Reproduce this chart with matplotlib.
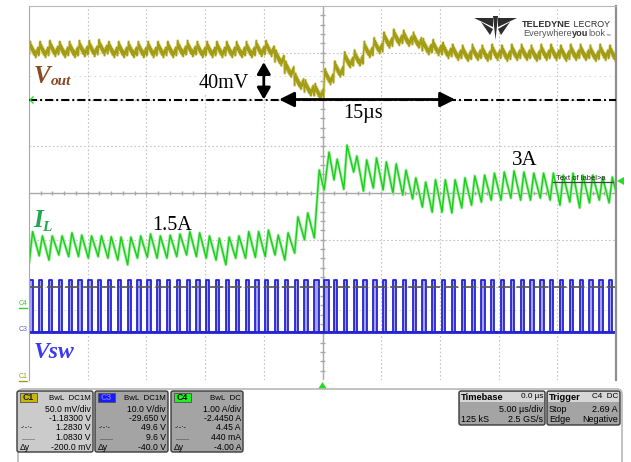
import numpy as np
import matplotlib.pyplot as plt
from matplotlib.patches import FancyBboxPatch, Polygon, Rectangle

plt.rcParams['lines.scale_dashes'] = False

# switching timing, us
t_first = -24.97      # first Vsw rising edge
period = 0.837        # switching period

# on-time fraction of each switching cycle
duty = [0.33] * 60
duty[29] = 0.50
duty[30] = 0.50

# inductor current at the start (valley) and end (peak) of each on-time, A
il_valley = [1.11, 1.26, 1.15, 1.28, 1.24, 1.24, 1.20, 1.24, 1.20, 1.15,
             1.03, 1.20, 1.22, 1.20, 1.20, 1.24, 1.28, 1.24, 1.20, 1.15,
             1.03, 1.20, 1.20, 1.22, 1.24, 1.28, 1.15, 1.33, 1.67, 1.72,
             2.95, 3.21, 2.97, 3.41, 2.92, 3.00, 2.95, 2.87, 2.82, 2.72,
             2.51, 2.38, 2.38, 2.36, 2.49, 2.56, 2.64, 2.69, 2.69, 2.74,
             2.69, 2.69, 2.74, 2.69, 2.56, 2.64, 2.49, 2.62, 2.69, 2.62, 2.60]
il_peak = [1.88, 1.77, 1.77, 1.77, 1.85, 1.79, 1.77, 1.77, 1.75, 1.74,
           1.74, 1.77, 1.82, 1.77, 1.79, 1.82, 1.88, 1.85, 1.77, 1.71,
           1.74, 1.77, 1.88, 1.88, 1.92, 1.79, 1.85, 2.26, 2.36, 3.46,
           3.92, 3.74, 4.10, 3.82, 3.72, 3.77, 3.67, 3.62, 3.46, 3.26,
           3.15, 3.21, 3.21, 3.21, 3.26, 3.31, 3.33, 3.38, 3.41, 3.44,
           3.41, 3.38, 3.38, 3.38, 3.33, 3.38, 3.33, 3.33, 3.28, 3.28]

# output voltage, cycle average (mV) and ripple shape within one cycle (mV)
vout_mv = [1336, 1336, 1337, 1336, 1336, 1337, 1337, 1338, 1336, 1336,
           1336, 1336, 1336, 1336, 1336, 1337, 1337, 1336, 1336, 1336,
           1336, 1336, 1336, 1337, 1337, 1327, 1315, 1302, 1295, 1291,
           1307, 1315, 1325, 1327, 1336, 1340, 1346, 1349, 1348, 1346,
           1339, 1338, 1335, 1333, 1332, 1333, 1332, 1333, 1332, 1333,
           1333, 1332, 1333, 1333, 1332, 1333, 1333, 1332, 1333, 1332]
vout_ripple = [-4, 3, 9, 1, 6, -1, 4, -3, 2, -5, 0, -6, -1, -8, -2, -5,
               1, -3, 3, -6]

# switch node levels, V
vsw_high = 11.1
vsw_low = -0.1

# channel vertical settings: units per div and offset
c1_scale, c1_offset = 50.0, -1183.0   # mV
c3_scale, c3_offset = 10.0, -29.65    # V
c4_scale, c4_offset = 1.2, -2.872     # A


def to_div(v, scale, offset):
    return (np.asarray(v, dtype=float) + offset) / scale


n = len(il_peak)
t_rise = t_first + period * np.arange(n + 1)
t_fall = t_rise[:n] + np.array(duty) * period

fig = plt.figure(figsize=(6.31, 4.62), dpi=100)
W, H = 631, 462
ax = fig.add_axes([29 / W, 1 - 380 / H, 587 / W, 374 / H])
ax.set_xlim(-25, 25)
ax.set_ylim(-4, 4)
ax.set_xticks([])
ax.set_yticks([])
ax.spines['bottom'].set_visible(False)
ax.spines['left'].set_color('#a8a8a8')
ax.spines['top'].set_color('#b8b8b8')
ax.spines['right'].set_color('#8e8e8e')
ax.spines['right'].set_linewidth(1.6)

# graticule
for t in np.arange(-20, 21, 5):
    if t != 0:
        ax.axvline(t, color='#c4c4c4', lw=0.8, ls=(0, (1.2, 1.6)), zorder=0)
for d in np.arange(-3, 4):
    if d != 0:
        ax.axhline(d, color='#c4c4c4', lw=0.8, ls=(0, (1.2, 1.6)), zorder=0)
for d in (2.5, -2.5):
    ax.axhline(d, color='#d8d8d8', lw=0.7, ls=(0, (1.2, 2.4)), zorder=0)
ax.axvline(0, color='#a8a8a8', lw=1.0, zorder=0)
ax.axhline(0, color='#a8a8a8', lw=1.0, zorder=0)
ax.vlines(np.arange(-24, 25, 1), -0.05, 0.05, color='#a8a8a8', lw=1.0, zorder=0)
ax.hlines(np.arange(-3.8, 3.9, 0.2), -0.22, 0.22, color='#a8a8a8', lw=1.0, zorder=0)

# cursors
ax.axhline(2, color='black', lw=1.5, ls=(0, (5.8, 2.2, 1.4, 2.2)), zorder=3)

# Vsw
lo = float(to_div(vsw_low, c3_scale, c3_offset))
hi = float(to_div(vsw_high, c3_scale, c3_offset))
vsw_t, vsw_v = [], []
for i in range(n):
    vsw_t += [t_rise[i], t_rise[i], t_fall[i], t_fall[i]]
    vsw_v += [vsw_low, vsw_high, vsw_high, vsw_low]
    ax.add_patch(Rectangle((t_rise[i], lo), t_fall[i] - t_rise[i], hi - lo,
                           fc='#a4a4ec', ec='none', zorder=1))
vsw_t.append(25.5)
vsw_v.append(vsw_low)
ax.plot(vsw_t, to_div(vsw_v, c3_scale, c3_offset), color='#2424d4', lw=1.3, zorder=2)
ax.axhline(lo, color='#2424d4', lw=2.0, zorder=2)
ax.axhline(-2, color='#555555', lw=1.2, ls=(0, (10, 3)), zorder=2.5)

# inductor current
il_t, il_v = [], []
for i in range(n):
    il_t += [t_rise[i], t_fall[i]]
    il_v += [il_valley[i], il_peak[i]]
il_t.append(t_rise[n])
il_v.append(il_valley[n])
il_d = to_div(il_v, c4_scale, c4_offset)
ax.plot(il_t, il_d, color='#a6f0a6', lw=2.2, zorder=2)
ax.plot(il_t, il_d, color='#1ecc1e', lw=1.0, zorder=2)

# output voltage
m = len(vout_ripple)
vo_t, vo_v = [], []
for i in range(n):
    vo_t += list(t_rise[i] + period * np.arange(m) / m)
    vo_v += [vout_mv[i] + r for r in vout_ripple]
vo_d = to_div(vo_v, c1_scale, c1_offset)
ax.plot(vo_t, vo_d, color='#dcd890', lw=2.0, zorder=2)
ax.plot(vo_t, vo_d, color='#a39c16', lw=0.9, zorder=2)

# 40 mV step and 15 us recovery arrows
ax.annotate('', xy=(-5.0, to_div(1283 + 40, c1_scale, c1_offset)),
            xytext=(-5.0, to_div(1283, c1_scale, c1_offset)),
            arrowprops=dict(arrowstyle='<|-|>,head_length=0.7,head_width=0.4',
                            color='black', lw=2.0, shrinkA=0, shrinkB=0), zorder=4)
ax.annotate('', xy=(-3.7, 2), xytext=(-3.7 + 15, 2),
            arrowprops=dict(arrowstyle='<|-|>,head_length=0.9,head_width=0.45',
                            color='black', lw=2.0, shrinkA=0, shrinkB=0), zorder=4)

# overlay in pixel coordinates for labels and readouts
ao = fig.add_axes([0, 0, 1, 1], zorder=5)
ao.set_xlim(0, W)
ao.set_ylim(H, 0)
ao.axis('off')
ao.patch.set_visible(False)

serif = 'Liberation Serif'
sans = 'Liberation Sans'
wbox = dict(fc='white', ec='none', pad=0.5)
ao.text(34, 83, 'V', family=serif, style='italic', weight='bold', fontsize=18,
        color='#8a4a20', va='baseline', bbox=wbox)
ao.text(51, 85, 'out', family=serif, style='italic', weight='bold', fontsize=11,
        color='#8a4a20', va='baseline', bbox=wbox)
ao.text(199, 88, '40mV', family=serif, fontsize=14.5, va='baseline', bbox=wbox)
ao.text(343, 118, '15µs', family=serif, fontsize=14.5, va='baseline')
ao.text(33, 227, 'I', family=serif, style='italic', weight='bold', fontsize=18,
        color='#1ea852', va='baseline')
ao.text(42, 231, 'L', family=serif, style='italic', weight='bold', fontsize=11,
        color='#1ea852', va='baseline')
ao.text(152, 230, '1.5A', family=serif, fontsize=14.5, va='baseline')
ao.text(512, 165, '3A', family=serif, fontsize=15, va='baseline')
ao.text(34, 358, 'Vsw', family=serif, style='italic', weight='bold', fontsize=17,
        color='#3a3aee', va='baseline')

ao.text(556, 179.5, 'Text of label>a', family=sans, fontsize=5.5, color='#222222',
        va='baseline')
ao.plot([553, 613], [182, 182], color='#444444', lw=0.9)

# Teledyne LeCroy logo
for tri in ([(474, 18), (493, 18), (493, 27)], [(481, 22), (493, 29), (490, 35)],
            [(493, 16), (498, 16), (495.5, 40)],
            [(517, 18), (498, 18), (498, 27)], [(510, 22), (498, 29), (501, 35)]):
    ao.add_patch(Polygon(tri, closed=True, fc='#2e2e2e', ec='none'))

renderer = fig.canvas.get_renderer()


def word_run(x, y, parts):
    # lay out text pieces one after another on a common baseline
    for s, weight, size, color in parts:
        t = ao.text(x, y, s, family=sans, weight=weight, fontsize=size, color=color,
                    va='baseline')
        bb = t.get_window_extent(renderer)
        x += bb.width * W / fig.bbox.width


word_run(522, 27, [('TELEDYNE', 'bold', 6.6, '#2e2e2e'),
                   (' LECROY', 'normal', 6.4, '#2e2e2e')])
word_run(523, 36.5, [('Everywhere', 'normal', 6.6, '#555555'),
                     ('you', 'bold', 6.6, '#333333'),
                     ('look', 'normal', 6.6, '#555555'),
                     ('™', 'normal', 3.5, '#555555')])

# channel markers and trigger markers
green = '#22dd22'
ao.plot([33, 30, 33], [97, 100, 103], color=green, lw=1.0)
ao.add_patch(Polygon([(617, 181), (624, 177), (624, 185)], fc=green, ec='none'))
ao.add_patch(Polygon([(318, 389), (327, 389), (322.5, 382)], fc=green, ec='none'))
ao.text(19, 305, 'C4', family=sans, fontsize=5, color='#33cc33', va='baseline')
ao.plot([19, 27], [308, 308], color='#33cc33', lw=1)
ao.text(19, 331, 'C3', family=sans, fontsize=5, color='#6060d0', va='baseline')
ao.text(19, 378, 'C1', family=sans, fontsize=5, color='#a09a20', va='baseline')
ao.plot([19, 27], [381, 381], color='#a09a20', lw=1)
ao.add_patch(FancyBboxPatch((18, 389), 604, 90, boxstyle='round,pad=0,rounding_size=5',
                            fc='none', ec='#b8b8b8', lw=1.2))

# readout boxes
fs = 6.2


def readout(x0, x1, y0, y1, face):
    ao.add_patch(FancyBboxPatch((x0, y0), x1 - x0, y1 - y0,
                                boxstyle='round,pad=0,rounding_size=2',
                                fc=face, ec='#3a3a3a', lw=1.0))


def tag(x0, label, face, tc):
    ao.add_patch(Rectangle((x0, 393), 17, 9, fc=face, ec='#505050', lw=0.6))
    ao.text(x0 + 8.5, 398, label, family=sans, weight='bold', fontsize=6.3, color=tc,
            ha='center', va='center')


channels = [
    (17, 93, '#cbcbcb', 'C1', '#c9b800', '#222222', 'BwL  DC1M',
     ['50.0 mV/div', '-1.18300 V', '1.2830 V', '1.0830 V', '-200.0 mV']),
    (95, 168, '#a4a4a4', 'C3', '#1a1aff', '#7070ff', 'BwL  DC1M',
     ['10.0 V/div', '-29.650 V', '49.6 V', '9.6 V', '-40.0 V']),
    (171, 243, '#a4a4a4', 'C4', '#22ee22', '#111111', 'BwL  DC',
     ['1.00 A/div', '-2.4450 A', '4.45 A', '440 mA', '-4.00 A']),
]
rows = [409, 418.5, 428, 438, 447.5]
for x0, x1, face, name, tface, tcol, bw, vals in channels:
    readout(x0, x1, 391, 452, face)
    tag(x0 + 3, name, tface, tcol)
    ao.text(x1 - 2, 398, bw, family=sans, fontsize=fs - 0.5, ha='right', va='center')
    for y, v in zip(rows, vals):
        ao.text(x1 - 2, y, v, family=sans, fontsize=fs, ha='right', va='center')
    ao.text(x0 + 4, rows[2], '-·-·-', family=sans, fontsize=fs - 1, va='center')
    ao.text(x0 + 4, rows[3], '.......', family=sans, fontsize=fs - 1, va='center')
    ao.text(x0 + 3, rows[4], 'Δy', family=sans, fontsize=fs, va='center')

for x0, x1, title, head, lines in [
        (459, 545, 'Timebase', '0.0 µs', [('', '5.00 µs/div'), ('125 kS', '2.5 GS/s')]),
        (547, 620, 'Trigger', 'C4  DC', [('Stop', '2.69 A'), ('Edge', 'Negative')])]:
    readout(x0, x1, 391, 425, '#a4a4a4')
    ao.add_patch(Rectangle((x0 + 0.6, 391.6), x1 - x0 - 1.2, 10, fc='#d6d6d6', ec='none'))
    ao.text(x0 + 2, 397, title, family=sans, weight='bold', fontsize=6.7, va='center')
    ao.text(x1 - 2, 397, head, family=sans, fontsize=fs - 0.3, ha='right', va='center')
    for y, (lt, rt) in zip([409, 419], lines):
        ao.text(x0 + 2, y, lt, family=sans, fontsize=fs + 0.3, va='center')
        ao.text(x1 - 2, y, rt, family=sans, fontsize=fs + 0.3, ha='right', va='center')

fig.savefig('out.png', dpi=100)
